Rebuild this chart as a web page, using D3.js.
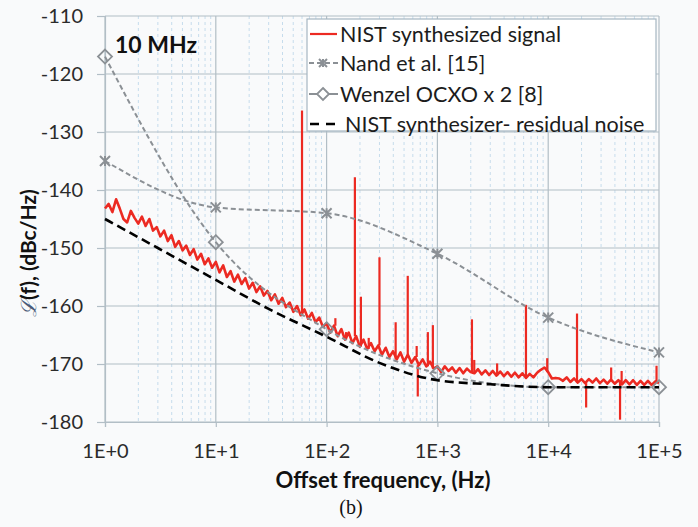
<!DOCTYPE html>
<html>
<head>
<meta charset="utf-8">
<script src="https://cdn.jsdelivr.net/npm/d3@7"></script>
<style>
  html, body { margin: 0; padding: 0; background: #f9fafb; }
  svg { display: block; font-family: Lato, "Liberation Sans", sans-serif; }
</style>
</head>
<body>
<div id="chart"></div>
<script>
// Phase noise, 10 MHz output
const decadeTicks = [1, 10, 100, 1000, 10000, 100000];
const decadeLabels = ["1E+0", "1E+1", "1E+2", "1E+3", "1E+4", "1E+5"];
const levelTicks = [-180, -170, -160, -150, -140, -130, -120, -110];

// Nand et al. [15]
const nandLevels = [-135, -143, -144, -151, -162, -168];
// Wenzel OCXO x 2 [8]
const wenzelLevels = [-117, -149, -164, -171.6, -174, -174];
// NIST synthesizer residual noise
const residualFreqs = [1, 3, 10, 30, 100, 300, 1000, 3000, 10000, 100000];
const residualLevels = [-145, -150, -155.5, -160.5, -165.3, -169.8, -172.8, -173.5, -174, -174];

// NIST synthesized signal, 30 samples per decade
const noiseDec0 = [-143.2, -142.4, -143.8, -141.6, -143.2, -145.0, -145.6, -143.6, -144.8, -145.8,
  -144.6, -146.2, -145.0, -147.0, -146.4, -148.0, -147.0, -148.8, -147.8, -149.8,
  -148.8, -150.4, -149.6, -151.2, -150.2, -152.0, -151.0, -152.8, -151.8, -153.4];
const noiseDec1 = [-152.4, -154.2, -153.0, -155.0, -154.0, -155.8, -154.6, -156.2, -155.2, -157.0,
  -156.0, -157.6, -156.6, -158.2, -157.4, -159.0, -158.0, -159.6, -158.6, -160.2,
  -159.4, -161.0, -160.0, -161.6, -160.6, -162.2, -161.2, -162.8, -162.0, -163.6];
const noiseDec2 = [-163.0, -164.6, -163.4, -165.2, -164.0, -165.8, -164.6, -166.4, -165.2, -167.0,
  -165.8, -167.4, -166.4, -167.8, -166.8, -168.4, -167.2, -168.8, -167.8, -169.2,
  -168.0, -169.6, -168.4, -169.8, -168.8, -170.2, -169.2, -170.4, -169.6, -170.8];
const noiseDec3 = [-170.4, -171.4, -170.4, -171.2, -170.6, -171.5, -170.7, -171.6, -170.8, -171.4,
  -171.6, -170.9, -171.8, -171.1, -171.9, -171.2, -172.0, -171.3, -172.1, -171.4,
  -172.2, -171.5, -172.3, -171.6, -172.4, -171.7, -172.3, -171.5, -171.0, -170.6];
const noiseDec4 = [-171.4, -172.5, -172.4, -172.5, -172.9, -172.3, -173.1, -172.5, -173.2, -172.6,
  -173.3, -172.6, -173.2, -172.5, -173.3, -172.7, -173.4, -172.7, -173.4, -172.8,
  -173.5, -172.8, -173.5, -172.8, -173.6, -172.9, -173.6, -172.9, -173.6, -173.0, -173.3];

// Discrete spurs on the synthesized signal
const spurFreqs = [60, 120, 150, 180, 204, 240, 300, 420, 540, 650, 665, 820, 910,
  2050, 2150, 3460, 6300, 9800, 18200, 22000, 37000, 44500, 46000, 95000];
const spurLevels = [-126.3, -162.1, -164.5, -137.8, -158.4, -165.5, -151.6, -162.8, -154.8, -166.9, -175.6, -164.5, -163.3,
  -162.3, -169.3, -169.9, -159.8, -169.0, -161.3, -177.5, -170.6, -179.6, -171.2, -170.3];

const legendItems = ["NIST synthesized signal", "Nand et al. [15]", "Wenzel OCXO x 2 [8]", "NIST synthesizer- residual noise"];

const width = 698, height = 527;
const margin = { left: 105, right: 39, top: 16, bottom: 105 };

const svg = d3.select("#chart").append("svg")
  .attr("width", width).attr("height", height);

const x = d3.scaleLog().domain([1, 1e5]).range([margin.left, width - margin.right]);
const y = d3.scaleLinear().domain([-180, -110]).range([height - margin.bottom, margin.top]);

const gridColor = "#b2bec6";
const minorColor = "#c6dcec";
const grayLine = "#8b9095";
const red = "#ec2a22";

// minor vertical gridlines (2..9 of every decade)
const minorTicks = x.ticks().filter(t => !decadeTicks.includes(t));
svg.append("g").selectAll("line")
  .data(minorTicks)
  .join("line")
  .attr("x1", d => x(d)).attr("x2", d => x(d))
  .attr("y1", y(-110)).attr("y2", y(-180))
  .attr("stroke", minorColor).attr("stroke-width", 1)
  .attr("stroke-dasharray", "3,3");

// major gridlines
svg.append("g").selectAll("line")
  .data(levelTicks)
  .join("line")
  .attr("x1", x(1)).attr("x2", x(1e5))
  .attr("y1", d => y(d)).attr("y2", d => y(d))
  .attr("stroke", gridColor).attr("stroke-width", 1.2);
svg.append("g").selectAll("line")
  .data(decadeTicks)
  .join("line")
  .attr("x1", d => x(d)).attr("x2", d => x(d))
  .attr("y1", y(-110)).attr("y2", y(-180))
  .attr("stroke", gridColor).attr("stroke-width", 1.2);

// axes
const yAxis = svg.append("g")
  .attr("transform", `translate(${x(1)},0)`)
  .call(d3.axisLeft(y).tickValues(levelTicks).tickSize(8).tickPadding(14).tickFormat(d => String(d)));
const xAxis = svg.append("g")
  .attr("transform", `translate(0,${y(-180)})`)
  .call(d3.axisBottom(x).tickValues(decadeTicks).tickSize(5).tickPadding(17)
    .tickFormat((d, i) => decadeLabels[i]));
[yAxis, xAxis].forEach(a => {
  a.select(".domain").attr("stroke", gridColor).attr("stroke-width", 1.2);
  a.selectAll(".tick line").attr("stroke", gridColor).attr("stroke-width", 1.2);
  a.selectAll("text").attr("fill", "#2b2b2b").style("font-size", "20px")
    .style("font-family", "Lato, sans-serif");
});

// build the synthesized signal trace
const noiseDecades = [noiseDec0, noiseDec1, noiseDec2, noiseDec3, noiseDec4];
const trace = [];
noiseDecades.forEach((vals, k) => {
  vals.forEach((v, i) => trace.push([Math.pow(10, k + i / 30), v]));
});

const line = d3.line().x(d => x(d[0])).y(d => y(d[1]));

svg.append("path")
  .datum(trace)
  .attr("d", line)
  .attr("fill", "none")
  .attr("stroke", red)
  .attr("stroke-width", 2.6)
  .attr("stroke-linejoin", "round");

const bisect = d3.bisector(d => d[0]).center;
svg.append("g").selectAll("line")
  .data(spurFreqs.map((f, i) => [f, spurLevels[i]]))
  .join("line")
  .attr("x1", d => x(d[0])).attr("x2", d => x(d[0]))
  .attr("y1", d => y(trace[bisect(trace, d[0])][1]))
  .attr("y2", d => y(d[1]))
  .attr("stroke", red)
  .attr("stroke-width", 2.2);

// comparison curves
const smooth = d3.line().curve(d3.curveMonotoneX).x(d => x(d[0])).y(d => y(d[1]));
const nand = decadeTicks.map((f, i) => [f, nandLevels[i]]);
const wenzel = decadeTicks.map((f, i) => [f, wenzelLevels[i]]);
const residual = residualFreqs.map((f, i) => [f, residualLevels[i]]);

[wenzel, nand].forEach(ser => {
  svg.append("path")
    .datum(ser)
    .attr("d", smooth)
    .attr("fill", "none")
    .attr("stroke", grayLine)
    .attr("stroke-width", 2)
    .attr("stroke-dasharray", "5,3");
});

function asterisk(g, cx, cy, r) {
  g.append("path")
    .attr("d", `M${cx - r},${cy - r}L${cx + r},${cy + r}M${cx - r},${cy + r}L${cx + r},${cy - r}M${cx},${cy - r}L${cx},${cy + r}`)
    .attr("stroke", grayLine).attr("stroke-width", 2).attr("fill", "none");
}
function diamond(g, cx, cy, r) {
  g.append("path")
    .attr("d", `M${cx},${cy - r}L${cx + r},${cy}L${cx},${cy + r}L${cx - r},${cy}Z`)
    .attr("stroke", grayLine).attr("stroke-width", 1.8).attr("fill", "none");
}

const markers = svg.append("g");
nand.forEach(d => asterisk(markers, x(d[0]), y(d[1]), 5));
wenzel.forEach(d => diamond(markers, x(d[0]), y(d[1]), 7));

svg.append("path")
  .datum(residual)
  .attr("d", smooth)
  .attr("fill", "none")
  .attr("stroke", "#000")
  .attr("stroke-width", 2.6)
  .attr("stroke-dasharray", "9,5");

// legend
const lg = svg.append("g");
lg.append("rect")
  .attr("x", 307).attr("y", 19).attr("width", 349).attr("height", 112)
  .attr("fill", "#fff").attr("stroke", "#a6b6c2").attr("stroke-width", 1.2);
const rowY = [34, 63, 94, 124];
lg.append("line").attr("x1", 310).attr("x2", 337).attr("y1", rowY[0]).attr("y2", rowY[0])
  .attr("stroke", red).attr("stroke-width", 2.2);
lg.append("line").attr("x1", 309).attr("x2", 338).attr("y1", rowY[1]).attr("y2", rowY[1])
  .attr("stroke", grayLine).attr("stroke-width", 2).attr("stroke-dasharray", "5,3");
asterisk(lg, 323, rowY[1], 4);
lg.append("line").attr("x1", 309).attr("x2", 338).attr("y1", rowY[2]).attr("y2", rowY[2])
  .attr("stroke", grayLine).attr("stroke-width", 2);
lg.append("path")
  .attr("d", `M323,${rowY[2] - 6}L329,${rowY[2]}L323,${rowY[2] + 6}L317,${rowY[2]}Z`)
  .attr("stroke", grayLine).attr("stroke-width", 1.8).attr("fill", "#fff");
lg.append("line").attr("x1", 310).attr("x2", 336).attr("y1", rowY[3]).attr("y2", rowY[3])
  .attr("stroke", "#000").attr("stroke-width", 2.6).attr("stroke-dasharray", "9,7");
lg.selectAll("text")
  .data(legendItems)
  .join("text")
  .attr("x", (d, i) => i === 3 ? 345 : 340)
  .attr("y", (d, i) => rowY[i])
  .attr("dy", "0.36em")
  .attr("fill", "#1c1c1c")
  .style("font-size", "21.5px")
  .text(d => d);

// annotations
svg.append("text")
  .attr("x", 115).attr("y", 53)
  .attr("fill", "#111")
  .style("font-size", "23px").style("font-weight", "bold")
  .text("10 MHz");

svg.append("text")
  .attr("x", 383).attr("y", 488)
  .attr("text-anchor", "middle")
  .attr("fill", "#111")
  .style("font-size", "22px").style("font-weight", "bold")
  .text("Offset frequency, (Hz)");

const yt = svg.append("text")
  .attr("transform", "translate(36,253) rotate(-90)")
  .attr("text-anchor", "middle")
  .attr("fill", "#111")
  .style("font-size", "21px").style("font-weight", "bold");
yt.append("tspan")
  .style("font-family", "'DejaVu Serif', serif").style("font-style", "italic")
  .style("font-weight", "normal").attr("fill", "#4a5a78")
  .text("ℒ");
yt.append("tspan").text("(f), (dBc/Hz)");

svg.append("text")
  .attr("x", 351).attr("y", 514)
  .attr("text-anchor", "middle")
  .attr("fill", "#111")
  .style("font-size", "20px")
  .style("font-family", "'Liberation Serif', serif")
  .text("(b)");
</script>
</body>
</html>
